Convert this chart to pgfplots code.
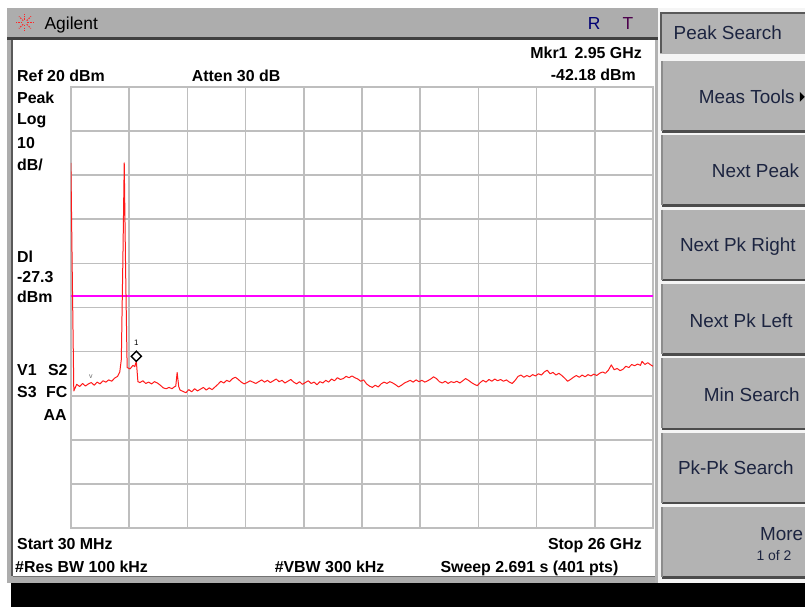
\documentclass[border=0pt]{standalone}
\usepackage{pgfplots}
\pgfplotsset{compat=1.18}
\usepackage{pgfplotstable}
\usepackage{fontspec}
\setmainfont{Liberation Sans}
\definecolor{bargray}{HTML}{ADADAD}
\definecolor{keygray}{HTML}{B3B3B3}
\definecolor{gridgray}{HTML}{BEBEBE}
\definecolor{keytext}{HTML}{1C2440}
\definecolor{trace}{HTML}{FF1A1A}
\definecolor{displine}{RGB}{255,0,255}

\pgfplotstableread{
f L
0.03 2.8
0.095 -23.7
0.16 -48.9
0.29 -47.4
0.42 -47.9
0.55 -47.2
0.68 -47.8
0.81 -47.3
0.94 -47.0
1.07 -47.6
1.20 -46.9
1.33 -47.3
1.46 -46.6
1.59 -46.9
1.72 -46.4
1.85 -46.7
1.98 -46.0
2.11 -45.6
2.21 -44.6
2.28 -41.8
2.35 -19.0
2.41 2.8
2.47 -21.0
2.54 -43.6
2.67 -43.9
2.80 -43.1
2.88 -43.4
2.95 -42.18
3.02 -46.8
3.11 -47.0
3.24 -46.6
3.37 -47.2
3.50 -46.9
3.63 -47.3
3.76 -46.8
3.89 -47.1
4.02 -47.6
4.15 -48.2
4.28 -48.4
4.41 -48.1
4.54 -48.4
4.64 -48.0
4.71 -47.8
4.77 -44.7
4.84 -47.9
4.90 -48.7
5.03 -49.0
5.16 -49.3
5.29 -48.6
5.42 -49.1
5.55 -48.4
5.68 -48.9
5.81 -48.5
5.94 -48.1
6.07 -48.7
6.20 -48.2
6.33 -48.6
6.46 -48.0
6.59 -47.4
6.72 -46.7
6.85 -47.1
6.98 -46.5
7.11 -46.8
7.24 -46.1
7.37 -45.8
7.50 -46.3
7.63 -46.9
7.76 -47.3
7.89 -47.0
8.02 -46.6
8.15 -46.9
8.28 -47.2
8.41 -46.8
8.54 -46.4
8.67 -46.9
8.80 -46.5
8.93 -47.0
9.06 -46.6
9.19 -46.2
9.32 -46.8
9.45 -46.5
9.58 -47.1
9.71 -46.7
9.84 -46.3
9.97 -46.9
10.10 -47.3
10.23 -46.8
10.36 -47.4
10.49 -47.0
10.62 -46.6
10.75 -47.2
10.88 -46.9
11.01 -47.5
11.14 -46.8
11.27 -47.1
11.40 -46.5
11.53 -46.9
11.66 -46.2
11.79 -46.6
11.92 -45.9
12.05 -46.3
12.18 -46.1
12.31 -45.6
12.44 -45.9
12.57 -45.5
12.70 -45.9
12.83 -46.2
12.96 -46.7
13.09 -46.4
13.22 -47.3
13.35 -47.8
13.48 -48.1
13.61 -47.6
13.74 -48.0
13.87 -47.3
14.00 -46.9
14.13 -47.2
14.26 -46.8
14.39 -47.1
14.52 -47.5
14.65 -48.0
14.78 -47.6
14.91 -47.1
15.04 -46.8
15.17 -46.5
15.30 -46.9
15.43 -46.4
15.56 -46.8
15.69 -46.5
15.82 -46.9
15.95 -46.6
16.08 -46.2
16.21 -45.7
16.34 -46.1
16.47 -46.8
16.60 -47.1
16.73 -46.7
16.86 -47.2
16.99 -46.8
17.12 -47.0
17.25 -46.7
17.38 -47.1
17.51 -46.6
17.64 -46.1
17.77 -46.5
17.90 -47.0
18.03 -47.4
18.16 -47.7
18.29 -47.0
18.42 -46.5
18.55 -46.9
18.68 -46.3
18.81 -46.7
18.94 -46.2
19.07 -46.6
19.20 -46.3
19.33 -46.7
19.46 -46.4
19.59 -46.9
19.72 -47.2
19.85 -46.5
19.98 -45.6
20.11 -45.3
20.24 -45.8
20.37 -45.4
20.50 -45.7
20.63 -45.2
20.76 -45.5
20.89 -45.0
21.02 -45.3
21.15 -44.6
21.28 -44.2
21.41 -45.0
21.54 -44.7
21.67 -45.3
21.80 -44.9
21.93 -45.4
22.06 -46.0
22.19 -46.7
22.32 -46.3
22.45 -45.8
22.58 -45.4
22.71 -45.8
22.84 -45.3
22.97 -45.7
23.10 -45.2
23.23 -45.5
23.36 -45.1
23.49 -45.4
23.62 -44.9
23.75 -44.6
23.88 -44.9
24.01 -44.2
24.14 -43.0
24.27 -44.1
24.40 -43.8
24.53 -44.3
24.66 -44.0
24.79 -43.3
24.92 -43.6
25.05 -42.9
25.18 -43.2
25.31 -42.8
25.44 -43.1
25.51 -42.2
25.64 -42.9
25.77 -42.5
25.90 -43.0
26.00 -43.3
}\tracedata

\pgfplotstableread{
f L
0.03 -27.3
26.00 -27.3
}\displaydata

\newcommand\bl[3]{\node[anchor=base west,inner sep=0pt,font=\fontsize{16}{16}\selectfont\bfseries] at (#1,#2) {#3};}
\newcommand\br[3]{\node[anchor=base east,inner sep=0pt,font=\fontsize{16}{16}\selectfont\bfseries] at (#1,#2) {#3};}
\newcommand\key[3]{\node[anchor=base west,inner sep=0pt,text=keytext,font=\fontsize{19}{19}\selectfont] at (#1,#2) {#3};}
\newcommand\keyr[3]{\node[anchor=base east,inner sep=0pt,text=keytext,font=\fontsize{19}{19}\selectfont] at (#1,#2) {#3};}

\begin{document}
\begin{tikzpicture}
\begin{scope}[x=1bp,y=-1bp]
  % page
  \fill[white] (0,0) rectangle (806,608);
  % title bar
  \fill[bargray] (7,8) rectangle (659,37);
  \fill[black!75] (7,37) rectangle (659,40);
  % left border
  \fill[bargray] (7,40) rectangle (12,584);
  \fill[black!65] (11,40) rectangle (13.5,577);
  % bottom border
  \fill[bargray] (12,576.5) rectangle (659,584);
  \draw[black!55,line width=1bp] (13,577) -- (657,577);
  % right edge of the panel
  \fill[gray!60] (656.5,40) rectangle (659,584);
  % black bar
  \fill[black] (11,584) rectangle (806,608);
  % softkey panel
  \fill[white!96!black] (659,8) rectangle (806,584);
  \fill[keygray] (661,12) rectangle (806,54);
  \draw[black!65,line width=2bp] (806,13) -- (662,13) -- (662,53);
  \foreach \t in {61,135.5,210,284.5,359,433.5,508}{
    \fill[keygray] (663,\t) rectangle (806,\t+70);
    \draw[black!70,line width=2.5bp] (663,\t+70.5) -- (806,\t+70.5);
    \draw[black!45,line width=1.2bp] (663,\t) -- (663,\t+70);
  }
  % star icon
  \foreach \a in {0,45,...,315}{
    \draw[red!85,line width=1bp,dash pattern=on 1.5bp off 1.2bp] (25,22.5) ++(\a:2.5) -- ++(\a:6);
  }
  \node[anchor=base west,inner sep=0pt,font=\fontsize{17.5}{17.5}\selectfont] at (44.5,29.3) {Agilent};
  \node[anchor=base west,inner sep=0pt,text=blue!45!black,font=\fontsize{17.5}{17.5}\selectfont] at (588.5,29.3) {R};
  \node[anchor=base west,inner sep=0pt,text=violet!60!black,font=\fontsize{17.5}{17.5}\selectfont] at (623.5,29.3) {T};
  % annotations
  \br{643}{58.3}{Mkr1\hspace{7bp}2.95 GHz}
  \br{637}{81}{-42.18 dBm}
  \bl{17}{81.5}{Ref 20 dBm}
  \bl{192}{81.5}{Atten 30 dB}
  \bl{17}{103.3}{Peak}
  \bl{17}{125}{Log}
  \bl{17}{148.3}{10}
  \bl{17}{170.5}{dB/}
  \bl{17}{262.5}{Dl}
  \bl{17}{282.5}{-27.3}
  \bl{17}{302.5}{dBm}
  \bl{17}{376}{V1}
  \bl{48}{376}{S2}
  \bl{17}{398.5}{S3}
  \bl{46}{398.5}{FC}
  \br{67}{421}{AA}
  \bl{17}{550}{Start 30 MHz}
  \br{643}{550}{Stop 26 GHz}
  \bl{15}{573}{\#Res BW 100 kHz}
  \bl{275}{573}{\#VBW 300 kHz}
  \bl{441}{573}{Sweep 2.691 s (401 pts)}
  % softkeys
  \key{674.5}{39.3}{Peak Search}
  \keyr{796}{103.3}{Meas Tools}
  \fill[black] (801,92) -- (806,97) -- (801,102) -- cycle;
  \keyr{800.5}{177.7}{Next Peak}
  \keyr{797}{251.7}{Next Pk Right}
  \keyr{794}{327.7}{Next Pk Left}
  \keyr{801}{401.7}{Min Search}
  \keyr{795}{475.7}{Pk-Pk Search}
  \key{761}{541.5}{More}
  \node[anchor=base west,inner sep=0pt,text=keytext,font=\fontsize{14}{14}\selectfont] at (757.5,561.7) {1 of 2};
  \node[inner sep=0pt,text=black!60,font=\fontsize{7}{7}\selectfont] at (91,377) {v};
\end{scope}

\begin{axis}[
  at={(71bp,-87bp)}, anchor=north west,
  scale only axis, width=583bp, height=442bp,
  xmin=0.03, xmax=26, ymin=-80, ymax=20,
  xtick={0.03,2.627,5.224,7.821,10.418,13.015,15.612,18.209,20.806,23.403,26},
  ytick={-80,-70,...,20},
  xticklabels={}, yticklabels={},
  major tick length=0pt,
  grid=major,
  major grid style={color=gridgray, line width=1.6bp},
  axis line style={color=gridgray, line width=1.6bp},
  clip=true,
]
\addplot[draw=displine, line width=2bp, mark=none] table[x=f,y=L] {\displaydata};
\addplot[draw=trace, line width=1bp, line join=round, mark=none] table[x=f,y=L] {\tracedata};
\addplot[only marks, mark=square, mark size=3.6bp,
  mark options={draw=black, fill=white, line width=1.4bp, yshift=5bp, rotate=45}]
  coordinates {(2.95,-42.18)};
\node[font=\fontsize{8}{8}\selectfont, inner sep=0pt] at (axis cs:2.95,-42.18) [yshift=19bp] {1};
\end{axis}
\end{tikzpicture}
\end{document}
